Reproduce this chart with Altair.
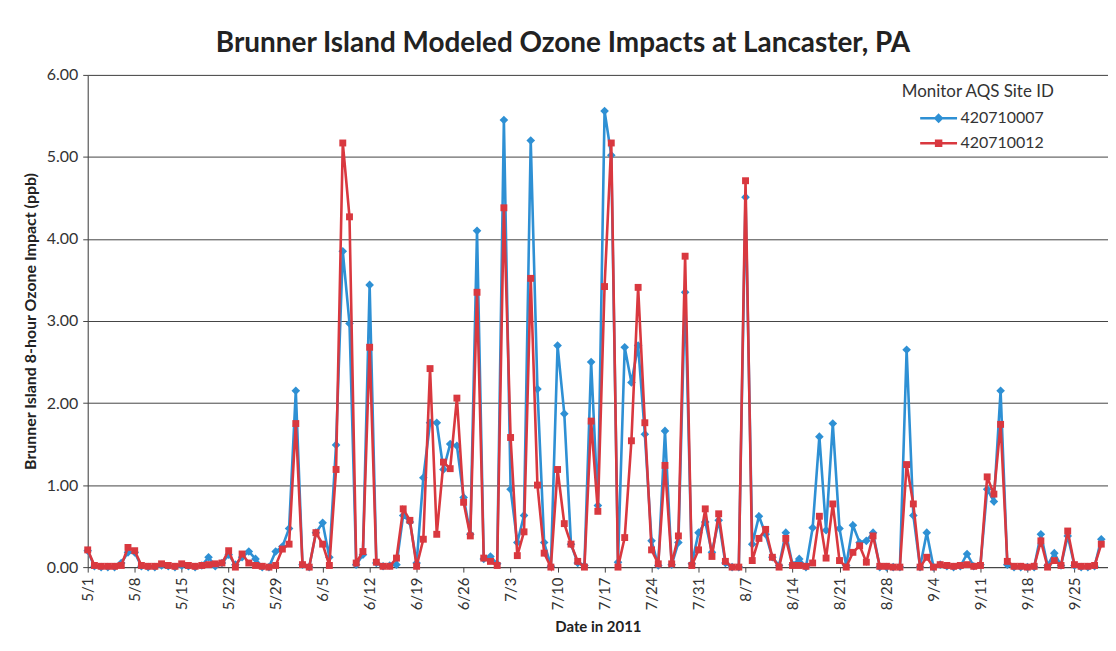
import altair as alt
import pandas as pd

# ---------------- data ----------------
series_names = ["420710007", "420710012"]
start_date = "2011-05-01"
end_date = "2011-09-29"
domain_end = (2011, 9, 30)
tick_first = "2011-05-01"
tick_last = "2011-09-25"
y_ticks = [0, 1, 2, 3, 4, 5, 6]

blue_may = [0.20, 0.01, 0.00, 0.00, 0.00, 0.05, 0.18, 0.18, 0.01, 0.00, 0.00, 0.02, 0.01, 0.00, 0.02, 0.01,
            0.00, 0.02, 0.12, 0.01, 0.05, 0.15, 0.03, 0.12, 0.19, 0.10, 0.00, 0.00, 0.19, 0.25, 0.47]
red_may = [0.21, 0.02, 0.01, 0.01, 0.01, 0.02, 0.24, 0.20, 0.02, 0.01, 0.01, 0.04, 0.02, 0.01, 0.04, 0.02,
           0.01, 0.02, 0.03, 0.04, 0.05, 0.20, 0.00, 0.16, 0.05, 0.02, 0.01, 0.00, 0.02, 0.22, 0.28]
blue_jun = [2.15, 0.03, 0.00, 0.42, 0.54, 0.12, 1.49, 3.85, 2.97, 0.03, 0.15, 3.44, 0.05, 0.01, 0.02,
            0.03, 0.63, 0.55, 0.05, 1.09, 1.76, 1.76, 1.19, 1.50, 1.48, 0.85, 0.40, 4.10, 0.10, 0.13]
red_jun = [1.75, 0.03, 0.00, 0.42, 0.28, 0.02, 1.19, 5.17, 4.27, 0.05, 0.19, 2.68, 0.06, 0.01, 0.01,
           0.11, 0.71, 0.57, 0.01, 0.34, 2.42, 0.40, 1.28, 1.20, 2.06, 0.79, 0.38, 3.35, 0.11, 0.07]
blue_jul = [0.04, 5.45, 0.95, 0.30, 0.63, 5.20, 2.17, 0.30, 0.01, 2.70, 1.87, 0.28, 0.05, 0.02, 2.50, 0.75,
            5.56, 5.02, 0.06, 2.68, 2.25, 2.70, 1.62, 0.32, 0.02, 1.66, 0.03, 0.30, 3.35, 0.04, 0.42]
red_jul = [0.02, 4.38, 1.58, 0.14, 0.43, 3.52, 1.00, 0.17, 0.00, 1.19, 0.53, 0.28, 0.07, 0.00, 1.78, 0.68,
           3.42, 5.17, 0.00, 0.36, 1.54, 3.41, 1.76, 0.21, 0.04, 1.24, 0.04, 0.38, 3.79, 0.02, 0.21]
blue_aug = [0.55, 0.18, 0.57, 0.05, 0.00, 0.00, 4.51, 0.28, 0.62, 0.40, 0.12, 0.02, 0.42, 0.03, 0.10, 0.00,
            0.48, 1.59, 0.45, 1.75, 0.47, 0.02, 0.51, 0.30, 0.32, 0.42, 0.00, 0.00, 0.00, 0.00, 2.65]
red_aug = [0.71, 0.13, 0.65, 0.07, 0.00, 0.00, 4.71, 0.08, 0.35, 0.46, 0.12, 0.00, 0.35, 0.02, 0.02, 0.01,
           0.05, 0.62, 0.11, 0.77, 0.08, 0.00, 0.18, 0.26, 0.06, 0.38, 0.01, 0.01, 0.00, 0.00, 1.25]
blue_sep = [0.63, 0.00, 0.42, 0.00, 0.03, 0.01, 0.00, 0.01, 0.16, 0.01, 0.03, 0.95, 0.80, 2.15, 0.03,
            0.00, 0.00, 0.00, 0.00, 0.40, 0.02, 0.17, 0.02, 0.38, 0.02, 0.00, 0.00, 0.01, 0.34]
red_sep = [0.77, 0.00, 0.12, 0.00, 0.03, 0.02, 0.01, 0.02, 0.03, 0.01, 0.02, 1.10, 0.89, 1.74, 0.07,
           0.01, 0.01, 0.00, 0.01, 0.32, 0.00, 0.08, 0.02, 0.44, 0.03, 0.01, 0.01, 0.02, 0.28]

blue = blue_may + blue_jun + blue_jul + blue_aug + blue_sep
red = red_may + red_jun + red_jul + red_aug + red_sep

BLUE = "#2E90D4"
RED = "#D9383F"
FONT = "Lato"

dates = list(pd.date_range(start_date, end_date, freq="D").strftime("%Y-%m-%dT00:00:00"))
assert len(dates) == len(blue) == len(red)

df = pd.DataFrame({
    "date": dates + dates,
    "value": blue + red,
    "series": [series_names[0]] * len(blue) + [series_names[1]] * len(red),
})

tick_values = [alt.DateTime(year=d.year, month=d.month, date=d.day)
               for d in pd.date_range(tick_first, tick_last, freq="7D")]

x_enc = alt.X(
    "date:T",
    scale=alt.Scale(domain=[alt.DateTime(year=2011, month=5, date=1),
                            alt.DateTime(year=domain_end[0], month=domain_end[1], date=domain_end[2])]),
    axis=alt.Axis(
        values=tick_values, format="%-m/%-d", labelAngle=270, title="Date in 2011",
        grid=False, tickSize=5, labelPadding=5, labelFontSize=15, labelFont=FONT,
        labelColor="#333333", titleFont=FONT, titleFontSize=15, titleFontWeight="bold",
        titleColor="#222222", titlePadding=10, domainColor="#444444", tickColor="#444444",
        labelOverlap=False,
    ),
)
y_enc = alt.Y(
    "value:Q",
    scale=alt.Scale(domain=[0, 6], nice=False),
    axis=alt.Axis(
        values=y_ticks, format=".2f", title="Brunner Island 8-hour Ozone Impact (ppb)",
        grid=True, gridColor="#444444", gridWidth=1, tickSize=5, labelPadding=5,
        labelFontSize=16, labelFont=FONT, labelColor="#333333", titleFont=FONT,
        titleFontSize=16, titleFontWeight="bold", titleColor="#222222", titlePadding=8,
        domainColor="#444444", tickColor="#444444",
    ),
)

base = alt.Chart(df).encode(x=x_enc, y=y_enc)


def series_layers(name, color, shape, size):
    sub = base.transform_filter(alt.datum.series == name)
    line = sub.mark_line(color=color, strokeWidth=2.6)
    pts = sub.mark_point(color=color, filled=True, opacity=1, shape=shape, size=size)
    return [line, pts]


legend_paths = [
    "M0.7,0L4.4,0M2.55,-0.32L2.87,0L2.55,0.32L2.23,0Z",
    "M0.7,0L4.4,0M2.3,-0.25L2.8,-0.25L2.8,0.25L2.3,0.25Z",
]

legend_layer = base.transform_filter(alt.datum.value < 0).mark_point(
    filled=False, strokeWidth=2.5, opacity=1
).encode(
    color=alt.Color("series:N", scale=alt.Scale(domain=series_names, range=[BLUE, RED]),
                    legend=alt.Legend(
                        title="Monitor AQS Site ID", orient="none", legendX=817, legendY=9,
                        titleFont=FONT, titleFontSize=17, titleFontWeight="normal", titleColor="#333333",
                        titlePadding=6, labelFont=FONT, labelFontSize=16, labelColor="#333333",
                        labelOffset=36, symbolSize=400, symbolStrokeWidth=2.5, rowPadding=5,
                        padding=0, symbolType="circle")),
    shape=alt.Shape("series:N", scale=alt.Scale(domain=series_names, range=legend_paths)),
)

layers = (series_layers(series_names[0], BLUE, "diamond", 75)
          + series_layers(series_names[1], RED, "square", 48)
          + [legend_layer])

chart = alt.layer(*layers).properties(
    width=1024,
    height=494,
    padding={"left": 80, "top": 66, "right": 0, "bottom": 70},
    autosize=alt.AutoSizeParams(type="none"),
    title=alt.TitleParams(
        "Brunner Island Modeled Ozone Impacts at Lancaster, PA",
        font=FONT, fontSize=28, fontWeight="bold", color="#222222",
        anchor="middle", frame="group", baseline="bottom", offset=17, dx=-35, dy=36,
    ),
).configure_view(stroke=None).configure(background="white")

chart.save("out.html", embed_options={"renderer": "svg", "actions": False})
